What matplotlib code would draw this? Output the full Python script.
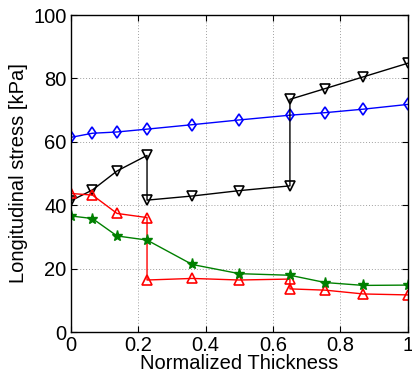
import matplotlib
matplotlib.use('Agg')
import matplotlib.pyplot as plt

plt.rcParams['font.family'] = ['Liberation Sans', 'DejaVu Sans']

# Normalized thickness positions of the layers
x_pos = [0, 0.064, 0.137, 0.226, 0.36, 0.5, 0.65, 0.755, 0.868, 1.0]

# Blue diamonds
blue_y = [61.4, 62.7, 63.1, 64.0, 65.4, 66.9, 68.4, 69.2, 70.3, 71.8]

# Black (down triangles), jumps at the interfaces
black_x = [0, 0.064, 0.137, 0.226, 0.226, 0.36, 0.5, 0.65, 0.65, 0.755, 0.868, 1.0]
black_y = [41.4, 44.8, 50.8, 55.7, 41.6, 42.9, 44.6, 46.1, 73.4, 76.8, 80.5, 84.8]

# Red (up triangles)
red_x = [0, 0.064, 0.137, 0.226, 0.226, 0.36, 0.5, 0.65, 0.65, 0.755, 0.868, 1.0]
red_y = [43.7, 43.2, 37.4, 36.1, 16.4, 16.9, 16.4, 16.7, 13.6, 13.2, 12.0, 11.7]

# Green stars
green_y = [36.6, 35.8, 30.3, 29.0, 21.3, 18.4, 17.9, 15.6, 14.7, 14.8]

fig = plt.figure(figsize=(4.12, 3.81), dpi=100)
ax = fig.add_axes([0.172, 0.1286, 0.818, 0.832])

ax.plot(x_pos, blue_y, '-d', color='blue', mfc='none', mew=1.2, ms=6, lw=1)
ax.plot(black_x, black_y, '-v', color='black', mfc='none', mew=1.2, ms=7, lw=1)
ax.plot(red_x, red_y, '-^', color='red', mfc='none', mew=1.2, ms=7, lw=1)
ax.plot(x_pos, green_y, '-*', color='green', mew=1.0, ms=8, lw=1)

ax.set_xlim(0, 1)
ax.set_ylim(0, 100)
ax.set_xticks([0, 0.2, 0.4, 0.6, 0.8, 1.0])
ax.set_xticklabels(['0', '0.2', '0.4', '0.6', '0.8', '1'])
ax.set_yticks([0, 20, 40, 60, 80, 100])

ax.grid(True, color='#a0a0a0', linestyle=(0, (1, 2)), linewidth=0.7)
ax.tick_params(direction='in', top=True, right=True, length=4, labelsize=14.5, pad=3)
for s in ax.spines.values():
    s.set_linewidth(1)

ax.set_xlabel('Normalized Thickness', fontsize=14.5, labelpad=-1)
ax.set_ylabel('Longitudinal stress [kPa]', fontsize=14.5, labelpad=4)

fig.savefig('out.png', dpi=100)
